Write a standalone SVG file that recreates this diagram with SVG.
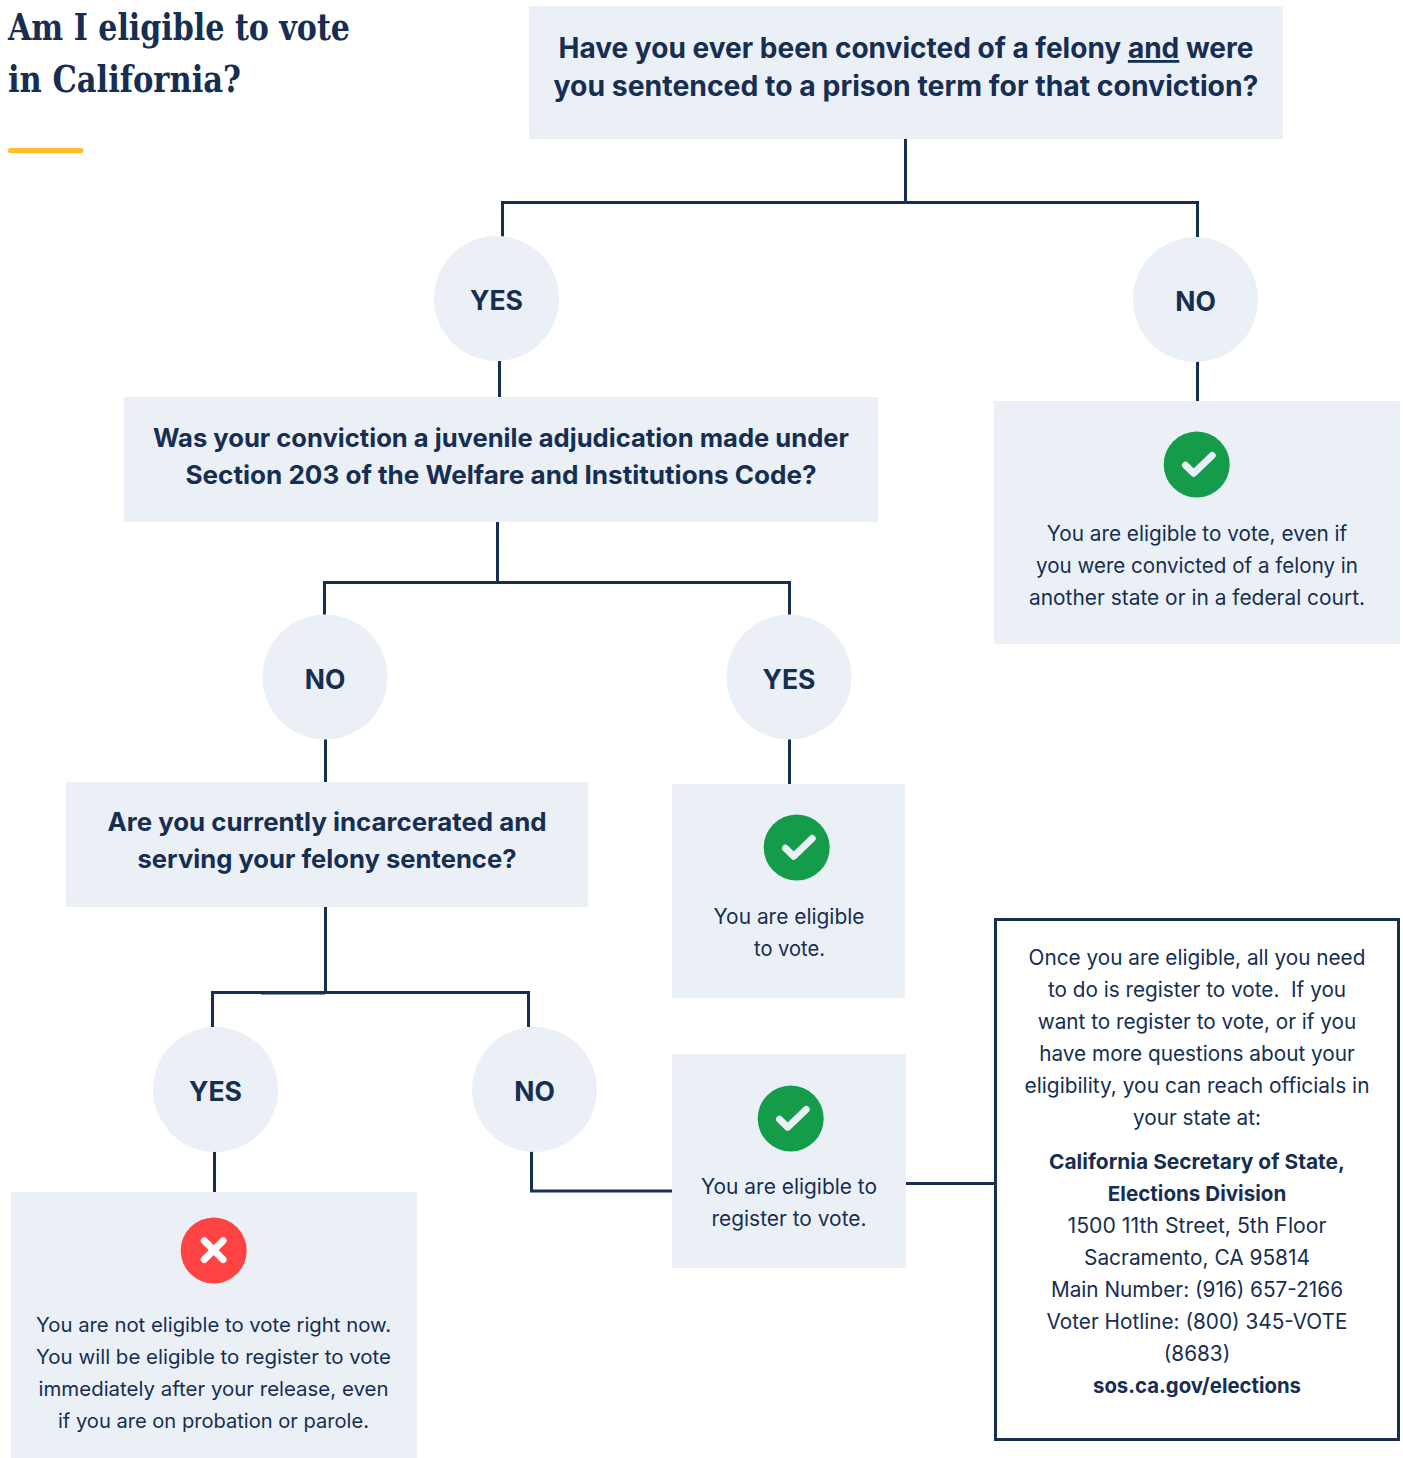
<svg xmlns="http://www.w3.org/2000/svg" width="1403" height="1458" viewBox="0 0 1403 1458">
<defs>
<style>
text{font-family:"Inter","Liberation Sans",sans-serif;fill:#162e51;text-anchor:middle}
.title{font-family:"DejaVu Serif",serif;font-stretch:condensed;font-weight:700;font-size:37px;text-anchor:start}
.q{font-weight:700;font-size:28px}
.q2{font-weight:700;font-size:25.800px}
.a{font-weight:700;font-size:26.500px}
.b{font-size:20.750px}
.c{font-size:20.300px}
.bb{font-size:20.600px;font-weight:700}
.box{fill:#ebf0f7}
.conn{fill:none;stroke:#162e51;stroke-width:3}
.mark{fill:none;stroke:#ebf0f7;stroke-width:7;stroke-linecap:round;stroke-linejoin:round}
</style>
<g id="check"><circle r="33" fill="#149c4b"/><path class="mark" d="M-11.200 .7 L-3 8.700 L15.500 -9"/></g>
</defs>
<rect width="1403" height="1458" fill="#fff"/>
<g id="connectors">
<path class="conn" d="M905.500 139V202"/>
<path class="conn" d="M502.500 237V202.500H1197.500V237"/>
<path class="conn" d="M499.500 361V397"/>
<path class="conn" d="M1197.500 361V401"/>
<path class="conn" d="M497.500 522V582"/>
<path class="conn" d="M324.500 615V582.500H789.500V615"/>
<path class="conn" d="M325.500 739V782"/>
<path class="conn" d="M789.500 739V784"/>
<path class="conn" d="M325.500 907V992"/>
<path class="conn" d="M212.500 1027V992.500H528.500V1027"/>
<path class="conn" d="M261 992.900H325"/>
<path class="conn" d="M214.500 1151V1192"/>
<path class="conn" d="M531.500 1151V1191H672"/>
<path class="conn" d="M906 1183.500H995"/>
</g>
<g id="title">
<text class="title" x="8" y="40" textLength="342" lengthAdjust="spacingAndGlyphs">Am I eligible to vote</text>
<text class="title" x="8" y="92" textLength="233" lengthAdjust="spacingAndGlyphs">in California?</text>
<rect x="8" y="148" width="75.500" height="5" rx="2.500" fill="#ffbc2b"/>
</g>
<g id="q1">
<rect class="box" x="529" y="6" width="754" height="133"/>
<text class="q" x="906" y="58" textLength="695" lengthAdjust="spacingAndGlyphs">Have you ever been convicted of a felony <tspan text-decoration="underline">and</tspan> were</text>
<text class="q" x="906" y="96" textLength="705" lengthAdjust="spacingAndGlyphs">you sentenced to a prison term for that conviction?</text>
</g>
<g id="yes1"><circle class="box" cx="496.500" cy="298.500" r="62.500"/><text class="a" x="496.500" y="310" textLength="53" lengthAdjust="spacingAndGlyphs">YES</text></g>
<g id="no1"><circle class="box" cx="1195.500" cy="299.500" r="62.500"/><text class="a" x="1195.500" y="311">NO</text></g>
<g id="q2">
<rect class="box" x="124" y="397" width="754" height="125"/>
<text class="q2" x="501" y="447" textLength="696" lengthAdjust="spacingAndGlyphs">Was your conviction a juvenile adjudication made under</text>
<text class="q2" x="501" y="484" textLength="631" lengthAdjust="spacingAndGlyphs">Section 203 of the Welfare and Institutions Code?</text>
</g>
<g id="eligible1">
<rect class="box" x="994" y="401" width="406" height="243"/>
<use href="#check" x="1196.700" y="464.500"/>
<text class="b" x="1197" y="541">You are eligible to vote, even if</text>
<text class="b" x="1197" y="573" textLength="322" lengthAdjust="spacingAndGlyphs">you were convicted of a felony in</text>
<text class="b" x="1197" y="605" textLength="336" lengthAdjust="spacingAndGlyphs">another state or in a federal court.</text>
</g>
<g id="no2"><circle class="box" cx="325" cy="677" r="62.500"/><text class="a" x="325" y="689">NO</text></g>
<g id="yes2"><circle class="box" cx="789" cy="677" r="62.500"/><text class="a" x="789" y="689" textLength="53" lengthAdjust="spacingAndGlyphs">YES</text></g>
<g id="q3">
<rect class="box" x="66" y="782" width="522" height="125"/>
<text class="q2" x="327" y="831" textLength="439" lengthAdjust="spacingAndGlyphs">Are you currently incarcerated and</text>
<text class="q2" x="327" y="868" textLength="379" lengthAdjust="spacingAndGlyphs">serving your felony sentence?</text>
</g>
<g id="eligible2">
<rect class="box" x="672" y="784" width="233" height="214"/>
<use href="#check" x="796.700" y="847.500"/>
<text class="b" x="789" y="924" textLength="151" lengthAdjust="spacingAndGlyphs">You are eligible</text>
<text class="b" x="789.500" y="956" textLength="71" lengthAdjust="spacingAndGlyphs">to vote.</text>
</g>
<g id="yes3"><circle class="box" cx="215.500" cy="1089.500" r="62.500"/><text class="a" x="215.500" y="1101" textLength="53" lengthAdjust="spacingAndGlyphs">YES</text></g>
<g id="no3"><circle class="box" cx="534.500" cy="1089.500" r="62.500"/><text class="a" x="534.500" y="1101">NO</text></g>
<g id="register">
<rect class="box" x="672" y="1054" width="234" height="214"/>
<use href="#check" x="790.700" y="1118.500"/>
<text class="b" x="789" y="1194" textLength="176" lengthAdjust="spacingAndGlyphs">You are eligible to</text>
<text class="b" x="789" y="1226" textLength="155" lengthAdjust="spacingAndGlyphs">register to vote.</text>
</g>
<g id="not-eligible">
<rect class="box" x="11" y="1192" width="406" height="266"/>
<circle cx="213.700" cy="1250.500" r="33" fill="#ff4343"/>
<path d="M204.300 1240.700 L223.100 1259.500 M223.100 1240.700 L204.300 1259.500" fill="none" stroke="#fff" stroke-width="7" stroke-linecap="round"/>
<text class="c" x="213.500" y="1332" textLength="355" lengthAdjust="spacingAndGlyphs">You are not eligible to vote right now.</text>
<text class="c" x="213.500" y="1364" textLength="355" lengthAdjust="spacingAndGlyphs">You will be eligible to register to vote</text>
<text class="c" x="213.500" y="1396" textLength="350" lengthAdjust="spacingAndGlyphs">immediately after your release, even</text>
<text class="c" x="213.500" y="1428" textLength="311" lengthAdjust="spacingAndGlyphs">if you are on probation or parole.</text>
</g>
<g id="info">
<rect x="995.500" y="919.500" width="403" height="520" fill="#fff" stroke="#162e51" stroke-width="3"/>
<text class="b" x="1197" y="965">Once you are eligible, all you need</text>
<text class="b" x="1197" y="997" xml:space="preserve">to do is register to vote.  If you</text>
<text class="b" x="1197" y="1029">want to register to vote, or if you</text>
<text class="b" x="1197" y="1061">have more questions about your</text>
<text class="b" x="1197" y="1093" textLength="345" lengthAdjust="spacingAndGlyphs">eligibility, you can reach officials in</text>
<text class="b" x="1197" y="1125">your state at:</text>
<text class="bb" x="1197" y="1169" textLength="296" lengthAdjust="spacingAndGlyphs">California Secretary of State,</text>
<text class="bb" x="1197" y="1201">Elections Division</text>
<text class="b" x="1197" y="1233" textLength="259" lengthAdjust="spacingAndGlyphs">1500 11th Street, 5th Floor</text>
<text class="b" x="1197" y="1265" textLength="226" lengthAdjust="spacingAndGlyphs">Sacramento, CA 95814</text>
<text class="b" x="1197" y="1297">Main Number: (916) 657-2166</text>
<text class="b" x="1197" y="1329">Voter Hotline: (800) 345-VOTE</text>
<text class="b" x="1197" y="1361">(8683)</text>
<text class="bb" x="1197" y="1393" textLength="208" lengthAdjust="spacingAndGlyphs">sos.ca.gov/elections</text>
</g>
</svg>
